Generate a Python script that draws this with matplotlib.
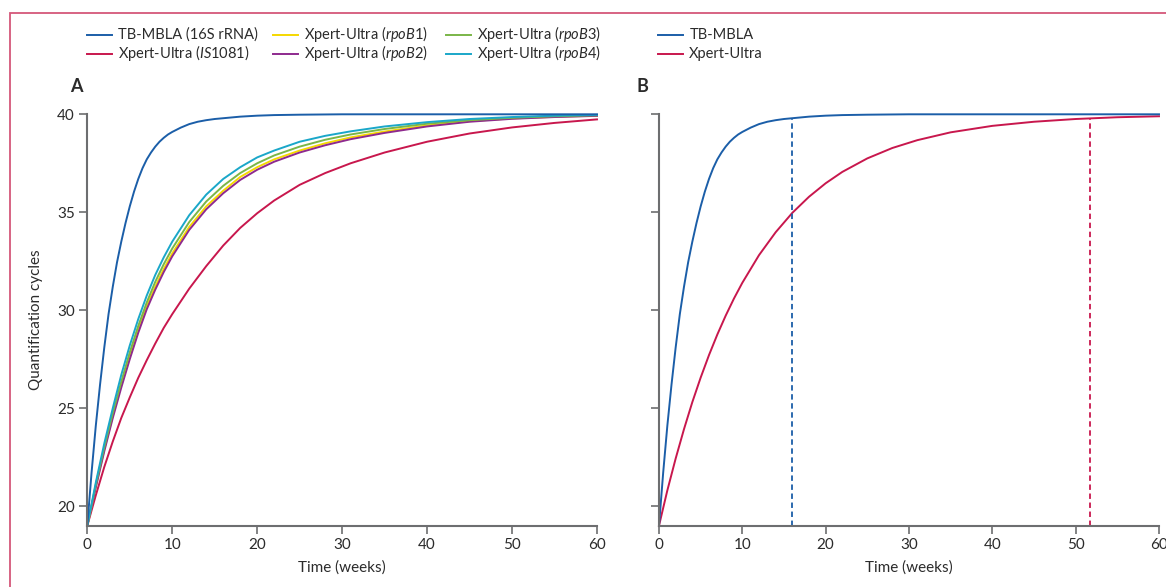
import numpy as np
import matplotlib
matplotlib.use("Agg")
import matplotlib.pyplot as plt
from matplotlib.patches import Rectangle
from matplotlib.lines import Line2D

plt.rcParams['font.family'] = ['Lato', 'DejaVu Sans']
plt.rcParams['mathtext.fontset'] = 'custom'
plt.rcParams['mathtext.rm'] = 'Lato'
plt.rcParams['mathtext.it'] = 'Lato:italic'

# Values: quantification cycles vs time (weeks)
weeks_mbla = [0, 0.5, 1, 1.5, 2, 2.5, 3, 3.5, 4, 4.5, 5, 5.5, 6, 6.5, 7, 7.5, 8, 8.5, 9, 9.5,
              10, 11, 12, 13, 14, 15, 16, 18, 20, 22, 25, 30, 40, 50, 60]
mbla_cq = [19, 21.7, 24.1, 26.2, 28.1, 29.8, 31.2, 32.45, 33.5, 34.45, 35.3, 36.05, 36.7, 37.25,
           37.7, 38.05, 38.35, 38.6, 38.8, 38.97, 39.1, 39.32, 39.5, 39.62, 39.7, 39.76, 39.8,
           39.88, 39.93, 39.96, 39.98, 40, 40, 40, 40]

weeks_a = [0, 1, 2, 3, 4, 5, 6, 7, 8, 9, 10, 12, 14, 16, 18, 20, 22, 25, 28, 31, 35, 40, 45, 50, 55, 60]
is1081_cq = [19, 20.55, 22.0, 23.3, 24.5, 25.55, 26.55, 27.45, 28.3, 29.1, 29.8, 31.1, 32.25, 33.3,
             34.2, 34.95, 35.6, 36.4, 37.0, 37.5, 38.05, 38.6, 39.02, 39.33, 39.56, 39.74]
rpob1_cq = [19, 21.0, 22.9, 24.6, 26.2, 27.65, 29.0, 30.2, 31.2, 32.1, 32.9, 34.25, 35.3, 36.1,
            36.8, 37.3, 37.7, 38.15, 38.52, 38.82, 39.12, 39.43, 39.65, 39.79, 39.87, 39.93]
rpob2_cq = [19, 20.95, 22.8, 24.5, 26.05, 27.5, 28.85, 30.05, 31.05, 31.95, 32.75, 34.1, 35.15, 35.97,
            36.65, 37.17, 37.58, 38.05, 38.42, 38.73, 39.05, 39.38, 39.62, 39.77, 39.86, 39.92]
rpob3_cq = [19, 21.1, 23.0, 24.75, 26.35, 27.85, 29.2, 30.4, 31.45, 32.35, 33.15, 34.5, 35.55, 36.35,
            37.0, 37.5, 37.9, 38.35, 38.7, 38.97, 39.25, 39.52, 39.7, 39.82, 39.9, 39.95]
rpob4_cq = [19, 21.2, 23.2, 25.0, 26.7, 28.2, 29.55, 30.75, 31.8, 32.7, 33.5, 34.85, 35.9, 36.7,
            37.3, 37.8, 38.15, 38.6, 38.9, 39.13, 39.38, 39.6, 39.76, 39.86, 39.93, 39.97]

weeks_b = [0, 1, 2, 3, 4, 5, 6, 7, 8, 9, 10, 12, 14, 16, 18, 20, 22, 25, 28, 31, 35, 40, 45, 50, 55, 60]
xpert_cq = [19, 20.8, 22.43, 23.93, 25.31, 26.56, 27.71, 28.76, 29.72, 30.6, 31.4, 32.81, 33.98, 34.97,
            35.79, 36.48, 37.06, 37.75, 38.28, 38.68, 39.08, 39.41, 39.62, 39.76, 39.85, 39.9]

mbla_cutoff = 16
xpert_cutoff = 51.7

BLUE = '#1b5ea8'
RED = '#c8174d'
YELLOW = '#f5d800'
PURPLE = '#8e2a8e'
GREEN = '#7ab648'
CYAN = '#1aa7c9'
SPINE = '#6d6e70'
TEXT = '#2b2b2b'

W, H = 1166, 587
fig = plt.figure(figsize=(W / 100, H / 100), dpi=100)
ax_a = fig.add_axes([87.3 / W, 61.3 / H, 509.7 / W, 411.4 / H])
ax_b = fig.add_axes([659 / W, 61.3 / H, 500 / W, 411.4 / H])

# pink frame around the figure (right and bottom edges cut off)
fig.patches.append(Rectangle((10 / W, -0.2), 1.5, 1.2 - 13 / H, transform=fig.transFigure,
                             fill=False, edgecolor='#d4577a', lw=1.3, clip_on=False))

lw = 1.4
ax_a.plot(weeks_a, is1081_cq, color=RED, lw=lw, clip_on=False)
ax_a.plot(weeks_a, rpob1_cq, color=YELLOW, lw=lw, clip_on=False)
ax_a.plot(weeks_a, rpob2_cq, color=PURPLE, lw=lw, clip_on=False)
ax_a.plot(weeks_a, rpob3_cq, color=GREEN, lw=lw, clip_on=False)
ax_a.plot(weeks_a, rpob4_cq, color=CYAN, lw=lw, clip_on=False)
ax_a.plot(weeks_mbla, mbla_cq, color=BLUE, lw=lw, clip_on=False)

ax_b.plot(weeks_b, xpert_cq, color=RED, lw=lw, clip_on=False)
ax_b.plot(weeks_mbla, mbla_cq, color=BLUE, lw=lw, clip_on=False)
ax_b.vlines(mbla_cutoff, 19, np.interp(mbla_cutoff, weeks_mbla, mbla_cq), color=BLUE,
            lw=1.3, linestyles=(0, (3, 2)))
ax_b.vlines(xpert_cutoff, 19, np.interp(xpert_cutoff, weeks_b, xpert_cq), color=RED,
            lw=1.3, linestyles=(0, (3, 2)))

for ax in (ax_a, ax_b):
    ax.set_xlim(0, 60)
    ax.set_ylim(19, 40)
    ax.set_xticks(range(0, 61, 10))
    ax.set_yticks(range(20, 41, 5))
    for s in ('top', 'right'):
        ax.spines[s].set_visible(False)
    for s in ('left', 'bottom'):
        ax.spines[s].set_color(SPINE)
        ax.spines[s].set_linewidth(1.5)
    ax.tick_params(direction='out', length=6, width=1.2, color=SPINE, labelsize=11,
                   labelcolor=TEXT, pad=3)
    ax.set_xlabel('Time (weeks)', fontsize=11, color=TEXT, labelpad=6)

ax_b.tick_params(axis='y', labelleft=False)
ax_a.set_ylabel('Quantification cycles', fontsize=11, color=TEXT, labelpad=10)

fig.text(70 / W, 1 - 87 / H, 'A', fontsize=13, fontweight='bold', color=TEXT, va='center')
fig.text(636 / W, 1 - 87 / H, 'B', fontsize=13, fontweight='bold', color=TEXT, va='center')


# legends drawn by hand so both rows share one baseline
def legend_entry(x, baseline, color, label):
    y_line = 1 - (baseline - 4.5) / H
    fig.add_artist(Line2D([x / W, (x + 25) / W], [y_line, y_line], color=color, lw=1.4,
                          transform=fig.transFigure))
    fig.text((x + 31) / W, 1 - baseline / H, label, fontsize=10.5, color=TEXT, va='baseline')


rows = [39, 58.3]
legend_entry(87.3, rows[0], BLUE, 'TB-MBLA (16S rRNA)')
legend_entry(87.3, rows[1], RED, 'Xpert-Ultra ($\\mathit{IS1081}$)')
legend_entry(272.7, rows[0], YELLOW, 'Xpert-Ultra ($\\mathit{rpoB1}$)')
legend_entry(272.7, rows[1], PURPLE, 'Xpert-Ultra ($\\mathit{rpoB2}$)')
legend_entry(446, rows[0], GREEN, 'Xpert-Ultra ($\\mathit{rpoB3}$)')
legend_entry(446, rows[1], CYAN, 'Xpert-Ultra ($\\mathit{rpoB4}$)')
legend_entry(658.3, rows[0], BLUE, 'TB-MBLA')
legend_entry(658.3, rows[1], RED, 'Xpert-Ultra')

fig.savefig('out.png', dpi=100)
